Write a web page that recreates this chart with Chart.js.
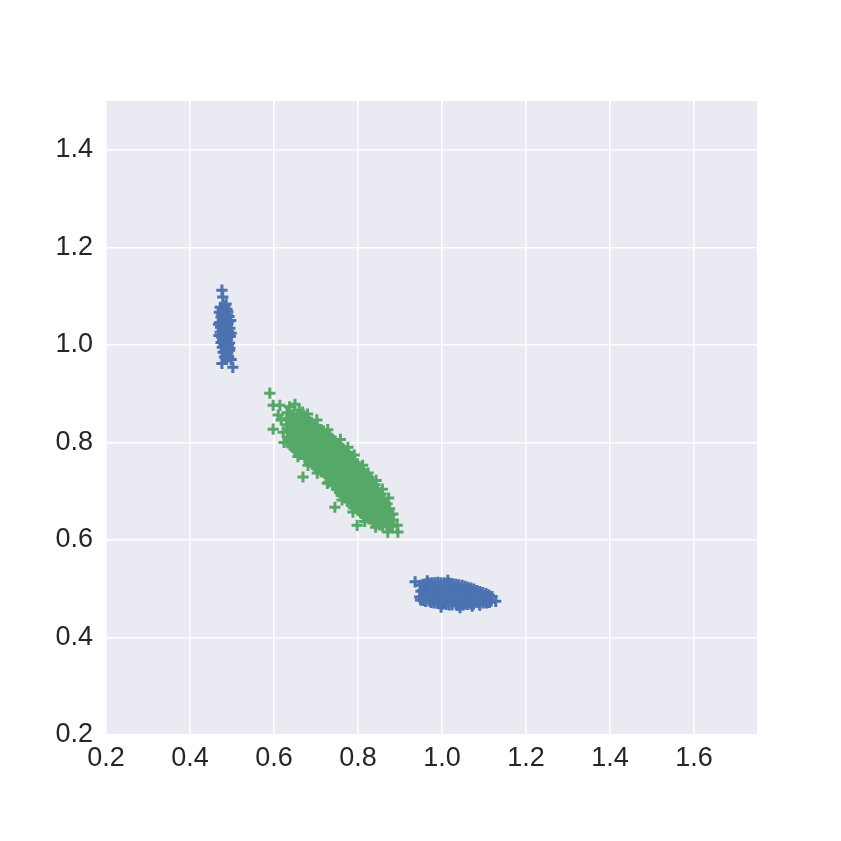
<!DOCTYPE html>
<html>
<head>
<meta charset="utf-8">
<script src="https://cdn.jsdelivr.net/npm/chart.js@4.4.0/dist/chart.umd.min.js"></script>
<style>
  html, body { margin: 0; padding: 0; background: #ffffff; }
  #wrap { width: 841px; height: 841px; }
</style>
</head>
<body>
<div id="wrap"><canvas id="c" width="841" height="841"></canvas></div>
<script>
// ---- data ----
const xTicks = [0.2, 0.4, 0.6, 0.8, 1.0, 1.2, 1.4, 1.6];
const yTicks = [0.2, 0.4, 0.6, 0.8, 1.0, 1.2, 1.4];

// blue cluster near (0.48, 1.03)
const blueUpper = [
  [0.476,1.112],[0.478,1.098],[0.476,0.962],[0.502,0.954],[0.498,0.970],
  [0.472,1.077],[0.483,1.079],
  [0.470,1.067],[0.481,1.065],[0.490,1.068],
  [0.474,1.057],[0.486,1.055],[0.493,1.058],
  [0.471,1.046],[0.480,1.047],[0.491,1.045],
  [0.473,1.036],[0.484,1.037],[0.495,1.034],
  [0.472,1.026],[0.482,1.024],[0.492,1.027],
  [0.475,1.016],[0.486,1.015],[0.496,1.017],
  [0.474,1.005],[0.483,1.006],[0.494,1.004],
  [0.477,0.995],[0.488,0.996],[0.495,0.993],
  [0.479,0.985],[0.490,0.984],
  [0.482,0.975],[0.492,0.976],
  [0.477,1.072],[0.488,1.073],[0.476,1.062],[0.489,1.061],[0.477,1.051],[0.487,1.052],
  [0.478,1.041],[0.489,1.040],[0.477,1.031],[0.488,1.032],[0.479,1.021],[0.490,1.020],
  [0.478,1.010],[0.489,1.011],[0.481,1.000],[0.491,0.999],[0.484,0.990],[0.494,0.989],
  [0.486,0.980],[0.487,0.970],
  [0.468,1.042],[0.469,1.019],[0.498,1.024],[0.497,1.050],[0.486,1.084]
];

// blue cluster near (1.03, 0.49)
const blueLower = [
  [0.936,0.514],[1.128,0.474],
  [0.948,0.507],[0.950,0.495],[0.947,0.483],[0.949,0.477],
  [0.962,0.510],[0.960,0.498],[0.963,0.486],[0.961,0.474],
  [0.976,0.512],[0.978,0.500],[0.975,0.488],[0.977,0.476],[0.974,0.472],
  [0.990,0.513],[0.988,0.501],[0.991,0.489],[0.989,0.477],[0.992,0.470],
  [1.005,0.512],[1.003,0.500],[1.006,0.488],[1.004,0.476],[1.002,0.469],
  [1.019,0.511],[1.021,0.499],[1.018,0.487],[1.020,0.475],[1.017,0.467],
  [1.033,0.509],[1.031,0.497],[1.034,0.485],[1.032,0.473],[1.035,0.466],
  [1.048,0.507],[1.046,0.495],[1.049,0.483],[1.047,0.471],[1.050,0.466],
  [1.062,0.503],[1.060,0.491],[1.063,0.479],[1.061,0.468],
  [1.076,0.499],[1.074,0.487],[1.077,0.475],[1.075,0.469],
  [1.090,0.494],[1.092,0.482],[1.089,0.471],
  [1.105,0.490],[1.103,0.479],[1.106,0.471],
  [1.119,0.484],[1.117,0.475],
  [0.955,0.509],[0.954,0.497],[0.956,0.485],[0.955,0.476],
  [0.969,0.511],[0.968,0.499],[0.970,0.487],[0.969,0.475],
  [0.983,0.512],[0.982,0.500],[0.984,0.488],[0.983,0.476],[0.981,0.471],
  [0.997,0.512],[0.996,0.500],[0.998,0.488],[0.997,0.476],[0.995,0.469],
  [1.012,0.511],[1.011,0.499],[1.013,0.487],[1.012,0.475],[1.010,0.468],
  [1.026,0.510],[1.025,0.498],[1.027,0.486],[1.026,0.474],[1.024,0.467],
  [1.040,0.508],[1.039,0.496],[1.041,0.484],[1.040,0.472],[1.038,0.466],
  [1.055,0.505],[1.054,0.493],[1.056,0.481],[1.055,0.469],
  [1.069,0.501],[1.068,0.489],[1.070,0.477],[1.069,0.469],
  [1.083,0.496],[1.082,0.484],[1.084,0.473],
  [1.097,0.492],[1.096,0.480],[1.098,0.471],
  [1.112,0.487],[1.111,0.477],[1.113,0.472],
  [0.998,0.462],[1.043,0.461],[1.072,0.464],[1.014,0.517],[0.965,0.516],[1.090,0.466]
];

// green cluster along the diagonal
const greenPoints = [
  [0.590,0.901],[0.598,0.876],[0.614,0.876],[0.650,0.878],[0.610,0.856],
  [0.598,0.827],[0.622,0.821],[0.624,0.800],[0.669,0.729],[0.745,0.667],
  [0.798,0.630],[0.893,0.630],[0.895,0.616],[0.871,0.616],[0.864,0.651],
  [0.852,0.677],[0.824,0.737],[0.776,0.790],[0.660,0.866],[0.680,0.858],
  [0.631,0.861],[0.635,0.849],[0.630,0.836],[0.636,0.824],[0.632,0.811],[0.634,0.799],
  [0.646,0.858],[0.650,0.846],[0.645,0.833],[0.649,0.821],[0.647,0.809],[0.651,0.796],[0.648,0.787],
  [0.660,0.856],[0.664,0.843],[0.661,0.831],[0.663,0.819],[0.659,0.806],[0.665,0.794],[0.662,0.782],[0.660,0.776],
  [0.675,0.849],[0.678,0.837],[0.674,0.825],[0.677,0.812],[0.679,0.800],[0.673,0.788],[0.677,0.776],[0.675,0.767],
  [0.689,0.841],[0.692,0.829],[0.688,0.816],[0.691,0.804],[0.693,0.792],[0.687,0.780],[0.690,0.767],[0.692,0.755],
  [0.703,0.832],[0.706,0.820],[0.704,0.808],[0.707,0.795],[0.702,0.783],[0.706,0.771],[0.704,0.758],[0.705,0.745],
  [0.718,0.823],[0.721,0.811],[0.717,0.798],[0.720,0.786],[0.722,0.774],[0.716,0.761],[0.719,0.749],[0.721,0.736],
  [0.732,0.812],[0.735,0.800],[0.731,0.788],[0.734,0.775],[0.736,0.763],[0.730,0.751],[0.733,0.738],[0.735,0.726],[0.731,0.719],
  [0.746,0.802],[0.749,0.790],[0.747,0.777],[0.750,0.765],[0.745,0.753],[0.748,0.740],[0.751,0.728],[0.746,0.716],[0.749,0.705],
  [0.761,0.789],[0.764,0.777],[0.760,0.765],[0.763,0.752],[0.765,0.740],[0.759,0.728],[0.762,0.715],[0.764,0.703],[0.760,0.691],
  [0.775,0.779],[0.778,0.767],[0.774,0.754],[0.777,0.742],[0.779,0.730],[0.773,0.717],[0.776,0.705],[0.778,0.693],[0.775,0.679],
  [0.789,0.764],[0.792,0.752],[0.788,0.739],[0.791,0.727],[0.793,0.715],[0.787,0.702],[0.790,0.690],[0.792,0.678],[0.789,0.666],
  [0.803,0.750],[0.806,0.738],[0.804,0.726],[0.807,0.713],[0.802,0.701],[0.805,0.689],[0.808,0.676],[0.803,0.664],[0.806,0.656],
  [0.818,0.736],[0.821,0.724],[0.817,0.711],[0.820,0.699],[0.822,0.687],[0.816,0.674],[0.819,0.662],[0.821,0.650],[0.818,0.646],
  [0.832,0.722],[0.835,0.710],[0.831,0.697],[0.834,0.685],[0.836,0.673],[0.830,0.660],[0.833,0.648],[0.835,0.637],
  [0.846,0.705],[0.849,0.693],[0.847,0.681],[0.850,0.668],[0.845,0.656],[0.848,0.644],[0.851,0.631],
  [0.861,0.685],[0.864,0.673],[0.860,0.660],[0.863,0.648],[0.865,0.636],[0.859,0.627],
  [0.875,0.664],[0.878,0.652],[0.874,0.640],[0.877,0.628],
  [0.640,0.855],[0.641,0.842],[0.639,0.830],[0.642,0.818],[0.640,0.805],[0.641,0.793],
  [0.655,0.852],[0.656,0.840],[0.654,0.827],[0.657,0.815],[0.655,0.803],[0.656,0.790],[0.654,0.782],
  [0.669,0.850],[0.670,0.837],[0.668,0.825],[0.671,0.813],[0.669,0.800],[0.670,0.788],[0.668,0.776],
  [0.683,0.843],[0.684,0.831],[0.682,0.818],[0.685,0.806],[0.683,0.794],[0.684,0.781],[0.682,0.769],[0.683,0.761],
  [0.698,0.835],[0.699,0.823],[0.697,0.810],[0.700,0.798],[0.698,0.786],[0.699,0.773],[0.697,0.761],[0.698,0.750],
  [0.712,0.826],[0.713,0.814],[0.711,0.802],[0.714,0.789],[0.712,0.777],[0.713,0.765],[0.711,0.752],[0.712,0.740],
  [0.726,0.817],[0.727,0.805],[0.725,0.792],[0.728,0.780],[0.726,0.768],[0.727,0.755],[0.725,0.743],[0.726,0.731],
  [0.740,0.806],[0.741,0.794],[0.739,0.782],[0.742,0.769],[0.740,0.757],[0.741,0.745],[0.739,0.732],[0.740,0.720],[0.741,0.712],
  [0.755,0.795],[0.756,0.783],[0.754,0.771],[0.757,0.758],[0.755,0.746],[0.756,0.734],[0.754,0.721],[0.755,0.709],[0.756,0.698],
  [0.769,0.783],[0.770,0.771],[0.768,0.759],[0.771,0.746],[0.769,0.734],[0.770,0.722],[0.768,0.709],[0.769,0.697],[0.770,0.686],
  [0.783,0.771],[0.784,0.759],[0.782,0.746],[0.785,0.734],[0.783,0.722],[0.784,0.709],[0.782,0.697],[0.783,0.685],[0.784,0.673],
  [0.798,0.756],[0.799,0.744],[0.797,0.732],[0.800,0.719],[0.798,0.707],[0.799,0.695],[0.797,0.682],[0.798,0.670],[0.799,0.661],
  [0.812,0.742],[0.813,0.730],[0.811,0.717],[0.814,0.705],[0.812,0.693],[0.813,0.680],[0.811,0.668],[0.812,0.656],[0.813,0.651],
  [0.826,0.728],[0.827,0.716],[0.825,0.704],[0.828,0.691],[0.826,0.679],[0.827,0.667],[0.825,0.654],[0.826,0.643],
  [0.840,0.713],[0.841,0.701],[0.839,0.689],[0.842,0.676],[0.840,0.664],[0.841,0.652],[0.839,0.640],[0.840,0.635],
  [0.855,0.694],[0.856,0.682],[0.854,0.669],[0.857,0.657],[0.855,0.645],[0.856,0.633],
  [0.869,0.674],[0.870,0.662],[0.868,0.650],[0.871,0.638],[0.869,0.628],
  [0.883,0.653],[0.884,0.641],[0.882,0.630],
  [0.702,0.846],[0.728,0.826],[0.758,0.806],[0.791,0.774],[0.811,0.753],[0.843,0.722],[0.858,0.704],[0.873,0.686],
  [0.657,0.771],[0.681,0.753],[0.703,0.737],[0.727,0.716],[0.762,0.682],[0.788,0.657],[0.816,0.638],[0.842,0.626],
  [0.617,0.846],[0.637,0.873],[0.668,0.862]
];

const BLUE = '#4C72B0';
const GREEN = '#55A868';

const toXY = arr => arr.map(p => ({ x: p[0], y: p[1] }));

const bgPlugin = {
  id: 'areaBg',
  beforeDraw(chart) {
    const { ctx, chartArea: a } = chart;
    ctx.save();
    ctx.fillStyle = '#EAEAF2';
    ctx.fillRect(a.left, a.top, a.right - a.left, a.bottom - a.top);
    ctx.restore();
  }
};

const tickFont = { family: '"Liberation Sans", Arial, Helvetica, sans-serif', size: 27 };

new Chart(document.getElementById('c'), {
  type: 'scatter',
  data: {
    datasets: [
      {
        label: 'blue',
        data: toXY(blueUpper.concat(blueLower)),
        pointStyle: 'cross',
        pointRadius: 5.6,
        pointBorderWidth: 3,
        borderColor: BLUE,
        backgroundColor: BLUE,
        pointHoverRadius: 5.6
      },
      {
        label: 'green',
        data: toXY(greenPoints),
        pointStyle: 'cross',
        pointRadius: 5.6,
        pointBorderWidth: 3,
        borderColor: GREEN,
        backgroundColor: GREEN,
        pointHoverRadius: 5.6
      }
    ]
  },
  options: {
    responsive: false,
    animation: false,
    devicePixelRatio: 1,
    events: [],
    layout: { padding: { left: 0, top: 101, right: 84, bottom: 0 } },
    plugins: { legend: { display: false }, tooltip: { enabled: false } },
    scales: {
      x: {
        type: 'linear',
        min: 0.2,
        max: 1.75,
        afterFit(s) { s.height = 106; },
        afterBuildTicks(s) { s.ticks = xTicks.map(v => ({ value: v })); },
        border: { display: false },
        grid: { color: '#FFFFFF', lineWidth: 1.6, drawTicks: false },
        ticks: {
          padding: 7,
          color: '#262626',
          font: tickFont,
          maxRotation: 0,
          autoSkip: false,
          callback: v => Number(v).toFixed(1)
        }
      },
      y: {
        type: 'linear',
        min: 0.2,
        max: 1.5,
        afterFit(s) { s.width = 106; },
        afterBuildTicks(s) { s.ticks = yTicks.map(v => ({ value: v })); },
        border: { display: false },
        grid: { color: '#FFFFFF', lineWidth: 1.6, drawTicks: false },
        ticks: {
          padding: 13,
          color: '#262626',
          font: tickFont,
          autoSkip: false,
          callback: v => Number(v).toFixed(1)
        }
      }
    }
  },
  plugins: [bgPlugin]
});
</script>
</body>
</html>
